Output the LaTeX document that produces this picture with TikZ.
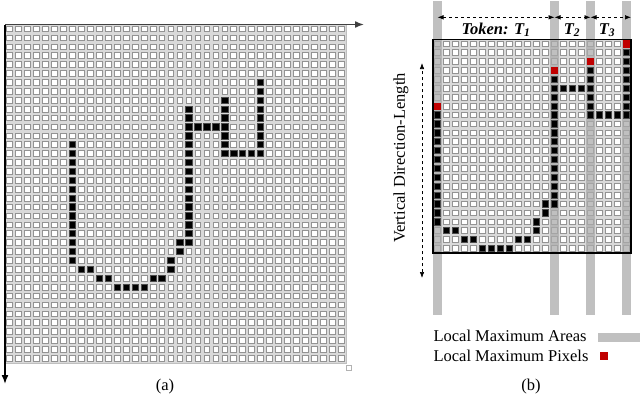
\documentclass[tikz,border=0pt]{standalone}
\usepackage{fontspec}
\setmainfont{Liberation Serif}
\usetikzlibrary{arrows.meta}
\definecolor{maxred}{HTML}{C00000}
\definecolor{bandgray}{HTML}{ABABAB}

\newcommand{\glyphpixels}[2]{%
  \foreach \c/\a/\b in {0/8/20,13/4/18,17/3/8,21/1/8}
    \foreach \r in {\a,...,\b}
      \draw[#1] (\c+.15,\r+.15) rectangle (\c+.85,\r+.85);
  \foreach \c/\r in {1/21,2/21,3/22,4/22,5/23,6/23,7/23,8/23,9/22,10/22,
                     11/21,11/20,12/19,12/18,14/5,15/5,16/5,18/8,19/8,20/8}
    \draw[#1] (\c+.15,\r+.15) rectangle (\c+.85,\r+.85);
  \foreach \c/\r in {0/7,13/3,17/2,21/0}
    \draw[#2] (\c+.15,\r+.15) rectangle (\c+.85,\r+.85);
}

\begin{document}
\begin{tikzpicture}[x=1pt,y=-1pt,
  font=\fontsize{16.5}{19}\selectfont,
  cellbox/.style={draw=gray!85,fill=white,line width=.75pt},
  pixel/.style={draw=gray!60!black,fill=black,line width=.7pt},
  maxpixel/.style={draw=maxred,fill=maxred,line width=.7pt},
  area/.style={fill=bandgray,fill opacity=.75},
  axis/.style={-{Latex[length=9pt,width=7pt]},line width=1.6pt},
  span/.style={{Latex[length=6pt,width=4.5pt]}-{Latex[length=6pt,width=4.5pt]},dashed,line width=.6pt},
  token/.style={font=\fontsize{16.5}{19}\selectfont\bfseries\itshape}
]
  \useasboundingbox (0,0) rectangle (640,394);

  % (a) whole character
  \begin{scope}[shift={(5,24.5)},x=8.97pt,y=-8.9pt]
    \fill[gray!30] (0,0) rectangle (38,38);
    \foreach \i in {0,...,37}
      \foreach \j in {0,...,37}
        \draw[cellbox] (\i+.18,\j+.18) rectangle (\i+.82,\j+.82);
    \begin{scope}[shift={(7,6)}]
      \glyphpixels{pixel}{pixel}
    \end{scope}
    \draw[gray!50] (0,38) -- (38,38) -- (38,0);
    \draw[gray!60,fill=white] (38.05,38.25) rectangle (38.55,38.8);
  \end{scope}

  \coordinate (origin) at (5,24.5);
  \coordinate (xend) at (364,24.5);
  \coordinate (yend) at (5,384);
  \draw[axis,black!75] (origin) -- (xend);
  \draw[axis] (origin) -- (yend);
  \node (capa) at (165,386.3) {(a)};

  % (b) cropped character with local maxima
  \begin{scope}[shift={(433,39.3)},x=9pt,y=-8.9pt]
    \fill[gray!30] (0,0) rectangle (22,24);
    \foreach \i in {0,...,21}
      \foreach \j in {0,...,23}
        \draw[cellbox] (\i+.18,\j+.18) rectangle (\i+.82,\j+.82);
    \foreach \c in {0,13,17,21}
      \fill[area] (\c,-4.3) rectangle (\c+1,31);
    \glyphpixels{pixel}{maxpixel}
    \draw[line width=1.5pt] (0,0) rectangle (22,24);
    \foreach \c in {0,13,17}
      \coordinate (b\c) at (\c+.5,-2.47);
    \coordinate (b22) at (22,-2.47);
  \end{scope}

  \draw[span] (b0) -- (b13);
  \draw[span] (b13) -- (b17);
  \draw[span] (b17) -- (b22);
  \node[token,anchor=base] (t1) at (496,34) {Token: T\textsubscript{1}};
  \node[token,anchor=base] (t2) at (572,34) {T\textsubscript{2}};
  \node[token,anchor=base] (t3) at (607,34) {T\textsubscript{3}};

  \coordinate (vtop) at (422,63);
  \coordinate (vbot) at (422,278);
  \draw[span] (vbot) -- (vtop);
  \node[rotate=90] (vlabel) at (401,158) {Vertical Direction-Length};

  \node[anchor=base west] (areas) at (430,341.5) {Local Maximum Areas};
  \node[anchor=base west] (pixels) at (430,361) {Local Maximum Pixels};
  \fill[area] (598,333) rectangle (641,342);
  \fill[maxred] (600,352) rectangle (608,360);
  \node (capb) at (531,386.7) {(b)};
\end{tikzpicture}
\end{document}
